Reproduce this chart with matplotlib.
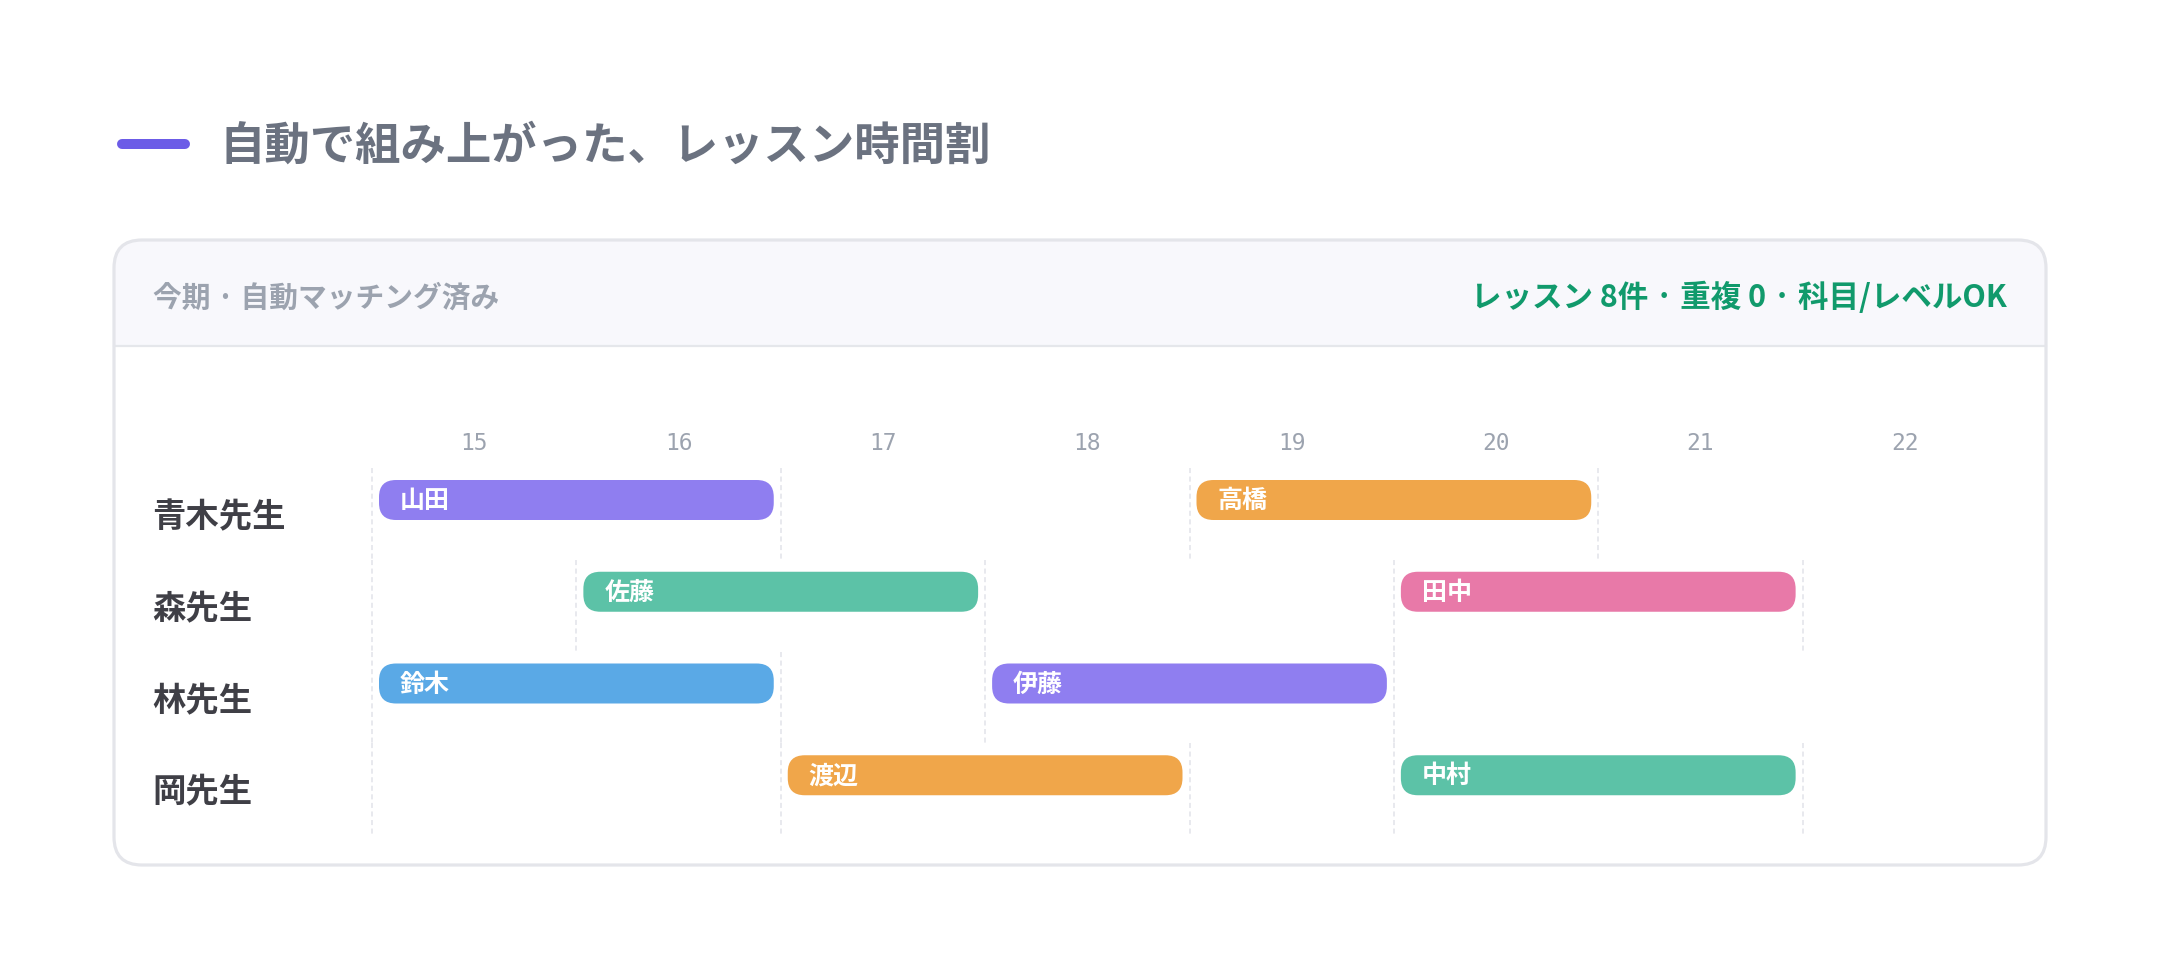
import matplotlib
matplotlib.use("Agg")
import matplotlib.pyplot as plt
from matplotlib.patches import FancyBboxPatch, Rectangle
from matplotlib.transforms import blended_transform_factory

plt.rcParams["font.family"] = ["Noto Sans CJK JP", "DejaVu Sans"]

# data
title = "自動で組み上がった、レッスン時間割"
header_left = "今期 · 自動マッチング済み"
header_right = "レッスン 8件 · 重複 0 · 科目/レベルOK"

teachers = ["青木先生", "森先生", "林先生", "岡先生"]
hours = [15, 16, 17, 18, 19, 20, 21, 22]

students = ["山田", "高橋", "佐藤", "田中", "鈴木", "伊藤", "渡辺", "中村"]
lesson_teacher = [0, 0, 1, 1, 2, 2, 3, 3]
lesson_start = [15, 19, 16, 20, 15, 18, 17, 20]
lesson_end = [17, 21, 18, 22, 17, 20, 19, 22]
lesson_colors = ["#8f7ef0", "#f0a64a", "#5cc2a7", "#e879a8",
                 "#5aa9e6", "#8f7ef0", "#f0a64a", "#5cc2a7"]

W, H = 2160, 980
fig = plt.figure(figsize=(W / 100, H / 100), dpi=100)
fig.patch.set_facecolor("white")

# background layer in pixel units
bg = fig.add_axes([0, 0, 1, 1])
bg.set_xlim(0, W)
bg.set_ylim(H, 0)
bg.axis("off")

# title with accent bar
bg.plot([122, 185], [144, 144], color="#6c5ce7", lw=7.2, solid_capstyle="round")
bg.text(220, 147, title, fontsize=32.7, fontweight="bold", color="#6b7280",
        va="center", ha="left")

# card
card_x0, card_y0, card_x1, card_y1 = 114, 240, 2046, 865
card = FancyBboxPatch((card_x0, card_y0), card_x1 - card_x0, card_y1 - card_y0,
                      boxstyle="round,pad=0,rounding_size=28",
                      fc="white", ec="none", zorder=1)
bg.add_patch(card)
header = Rectangle((card_x0, card_y0), card_x1 - card_x0, 106,
                   fc="#f8f8fc", ec="none", zorder=2)
header.set_clip_path(card)
bg.add_patch(header)
bg.plot([card_x0, card_x1], [346.5, 346.5], color="#e5e7eb", lw=1.6, zorder=3)
border = FancyBboxPatch((card_x0, card_y0), card_x1 - card_x0, card_y1 - card_y0,
                        boxstyle="round,pad=0,rounding_size=28",
                        fc="none", ec="#e4e5ea", lw=2.3, zorder=4)
bg.add_patch(border)

bg.text(153, 298, header_left, fontsize=20.7, fontweight="bold",
        color="#9ca3af", va="center", ha="left", zorder=5)
bg.text(2007, 298, header_right, fontsize=22, fontweight="bold",
        color="#119a6c", va="center", ha="right", zorder=5)

# timetable axes
left_px, right_px, top_px, bottom_px = 372, 2007, 468, 835
ax = fig.add_axes([left_px / W, 1 - bottom_px / H,
                   (right_px - left_px) / W, (bottom_px - top_px) / H])
ax.set_facecolor("none")
ax.set_xlim(hours[0], hours[-1] + 1)
ax.set_ylim(len(teachers), 0)
ax.axis("off")

px_x = (right_px - left_px) / (hours[-1] + 1 - hours[0])
px_y = (bottom_px - top_px) / len(teachers)

# dashed guides at the left edge and at each lesson edge
for i in range(len(teachers)):
    xs = {hours[0]}
    for t, s, e in zip(lesson_teacher, lesson_start, lesson_end):
        if t == i:
            xs.update([s, e])
    for x in sorted(xs):
        ax.plot([x, x], [i, i + 1], color="#e8e9ee", lw=1.4,
                linestyle=(0, (2.6, 1.8)), zorder=1, clip_on=False)

# hour labels
for h in hours:
    ax.text(h + 0.5, -25 / px_y, str(h), fontsize=16.5, color="#9ca3af",
            family="DejaVu Sans Mono", ha="center", va="center", clip_on=False)

# teacher labels
trans = blended_transform_factory(fig.transFigure, ax.transData)
for i, name in enumerate(teachers):
    ax.text(152 / W, i + 0.5 + 4 / px_y, name, transform=trans, fontsize=24,
            fontweight="bold", color="#3f3f46", ha="left", va="center")

# lesson bars
inset = 7 / px_x
bar_top = 12 / px_y
bar_h = 40 / px_y
for name, t, s, e, c in zip(students, lesson_teacher, lesson_start,
                            lesson_end, lesson_colors):
    bar = FancyBboxPatch((s + inset, t + bar_top), e - s - 2 * inset, bar_h,
                         boxstyle="round,pad=0,rounding_size=%f" % (17 / px_x),
                         mutation_aspect=px_x / px_y,
                         fc=c, ec="none", zorder=3)
    ax.add_patch(bar)
    ax.text(s + inset + 21 / px_x, t + bar_top + bar_h / 2 + 1 / px_y, name,
            fontsize=18, fontweight="bold", color="white",
            ha="left", va="center", zorder=4)

fig.savefig("out.png", dpi=100, facecolor="white")
